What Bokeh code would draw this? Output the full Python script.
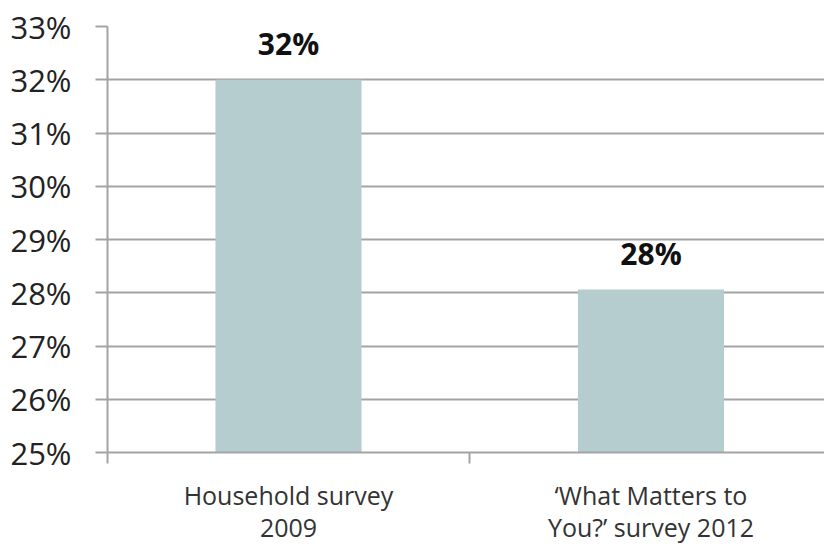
from bokeh.plotting import figure
from bokeh.models import ColumnDataSource, FixedTicker, NumeralTickFormatter, Range1d
from bokeh.core.properties import value
from bokeh.embed import file_html
from bokeh.resources import INLINE

# ---- data ----
categories = ["Household survey\n2009", "\u2018What Matters to\nYou?\u2019 survey 2012"]
positions = [0, 1]
shares = [0.32, 0.2806]
bar_labels = ["32%", "28%"]
y_ticks = [0.25, 0.26, 0.27, 0.28, 0.29, 0.30, 0.31, 0.32, 0.33]

FONT = "Open Sans"
GRID = "#a3a3a3"

src = ColumnDataSource(dict(x=positions, top=shares, label=bar_labels))

p = figure(width=824, height=547, output_backend="svg", toolbar_location=None,
           x_range=Range1d(-0.4993, 1.4786), y_range=Range1d(0.25, 0.33),
           min_border_left=107, min_border_top=26, min_border_right=0,
           min_border_bottom=95)
p.outline_line_color = None
p.background_fill_color = "white"
p.border_fill_color = "white"

p.vbar(x="x", top="top", bottom=0.25, width=0.403, source=src,
       fill_color="#b5cdcf", line_color=None)

p.text(x="x", y="top", text="label", source=src, text_align="center",
       text_baseline="alphabetic", y_offset=-36, text_font=value(FONT),
       text_font_style="bold", text_font_size="30px", text_color="#111111")

# grid
p.xgrid.grid_line_color = None
p.ygrid.grid_line_color = GRID
p.ygrid.grid_line_width = 2
p.ygrid.ticker = FixedTicker(ticks=y_ticks)

# y axis
ya = p.yaxis[0]
ya.ticker = FixedTicker(ticks=y_ticks)
ya.formatter = NumeralTickFormatter(format="0%")
ya.axis_line_color = GRID
ya.axis_line_width = 2
ya.major_tick_line_color = GRID
ya.major_tick_line_width = 2
ya.major_tick_out = 12
ya.major_tick_in = 0
ya.minor_tick_line_color = None
ya.major_label_standoff = 24
ya.major_label_text_font = FONT
ya.major_label_text_font_size = "31px"
ya.major_label_text_color = "#222222"

# x axis
xa = p.xaxis[0]
xa.ticker = FixedTicker(ticks=positions, minor_ticks=[-0.4993, 0.5])
xa.major_label_overrides = {pos: cat for pos, cat in zip(positions, categories)}
xa.axis_line_color = GRID
xa.axis_line_width = 2
xa.major_tick_line_color = None
xa.major_tick_out = 0
xa.major_tick_in = 0
xa.minor_tick_line_color = GRID
xa.minor_tick_line_width = 2
xa.minor_tick_out = 11
xa.minor_tick_in = 0
xa.major_label_standoff = 14
xa.major_label_text_font = FONT
xa.major_label_text_font_size = "25px"
xa.major_label_text_color = "#333333"
xa.major_label_text_line_height = 0.95

open("out.html", "w").write(file_html(p, INLINE))
